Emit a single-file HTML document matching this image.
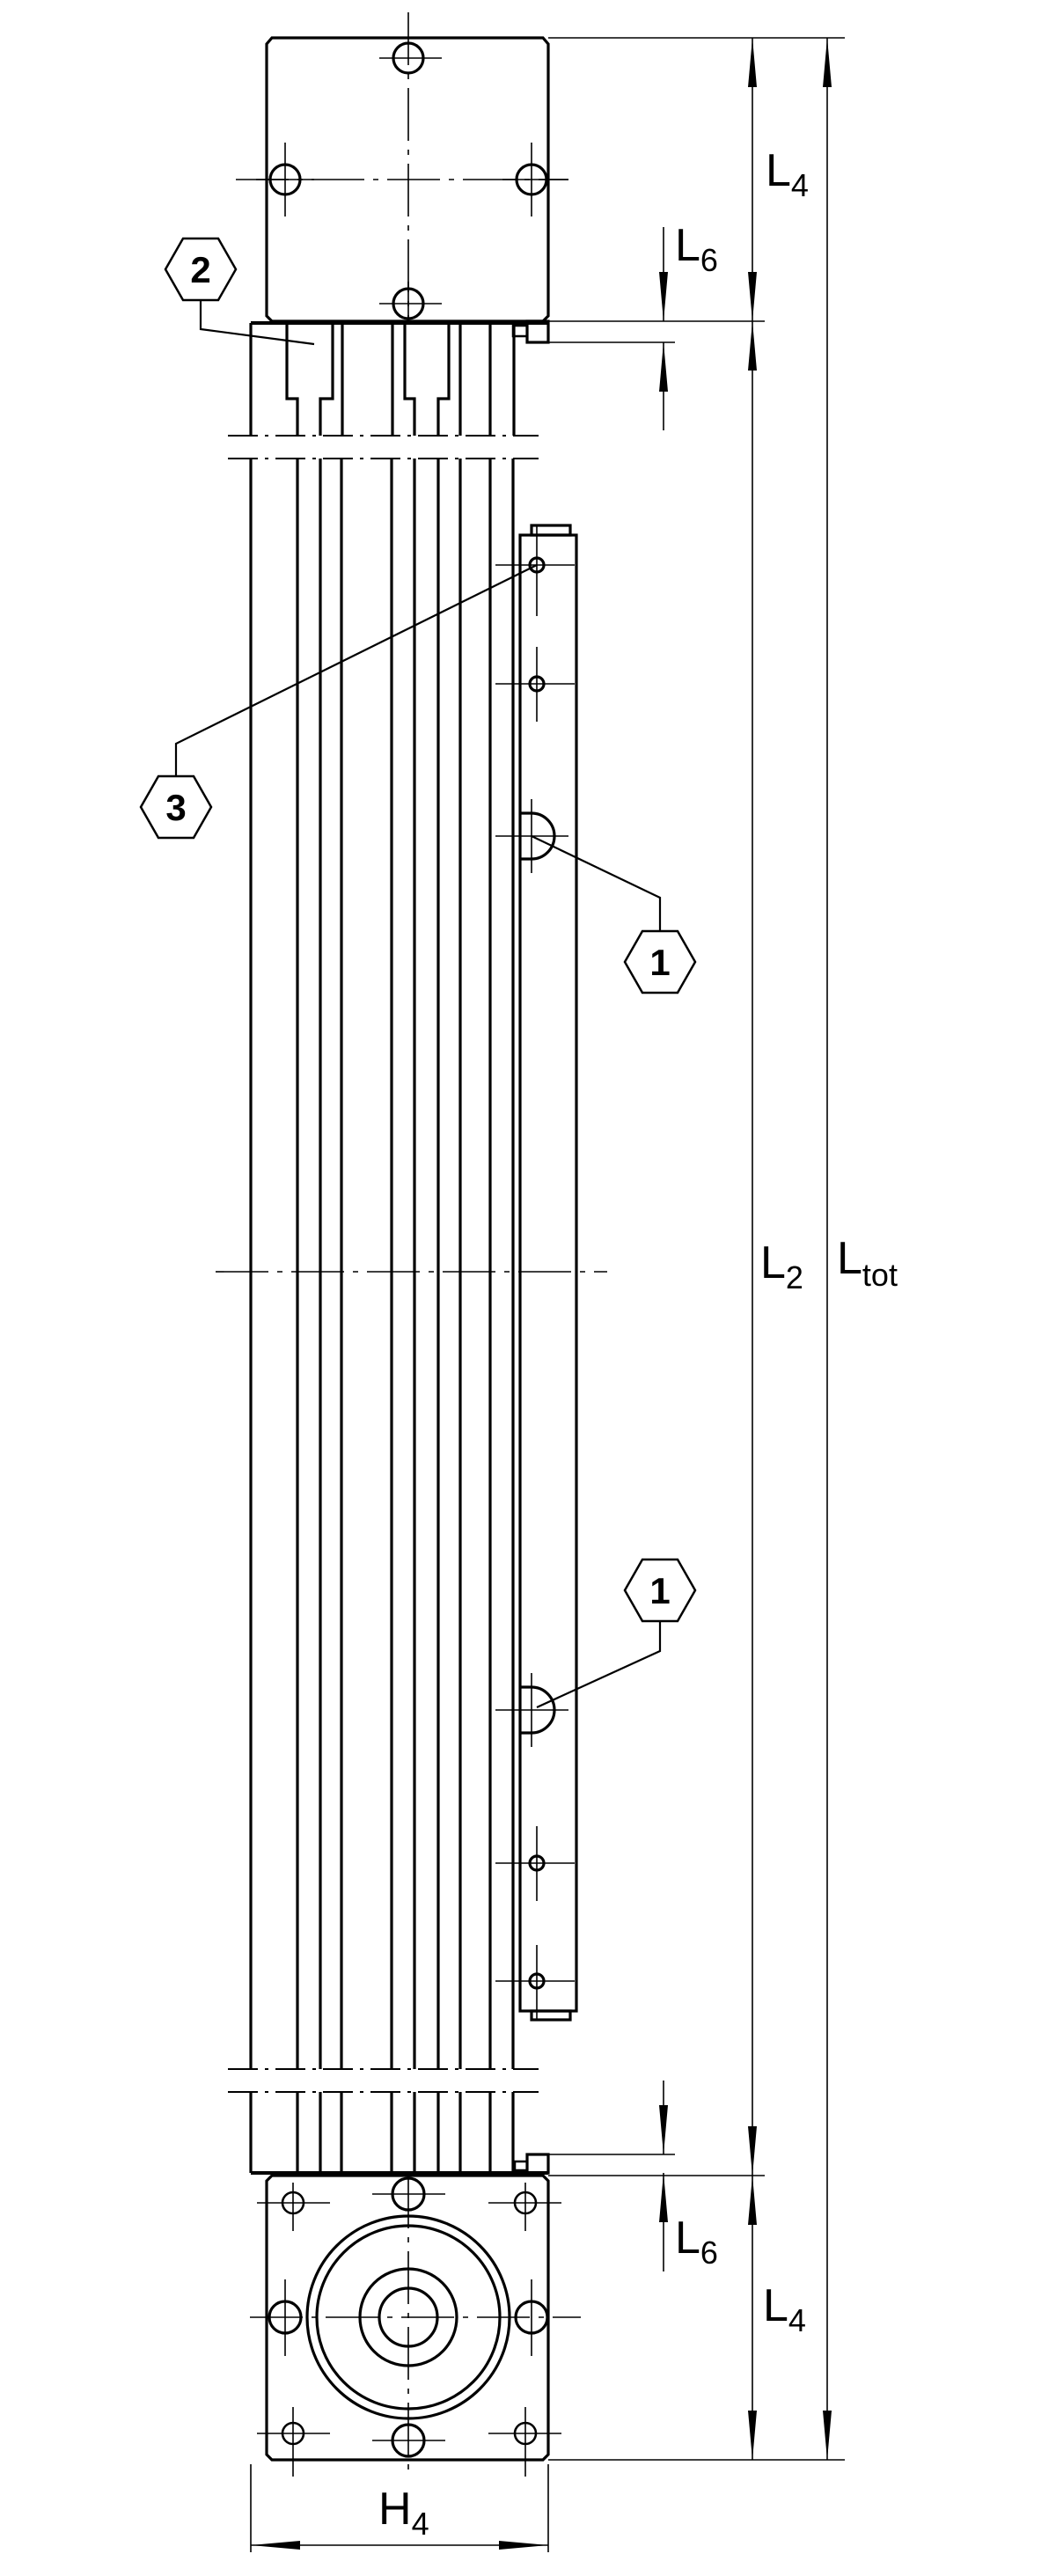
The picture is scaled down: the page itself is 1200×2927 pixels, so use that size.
<!DOCTYPE html>
<html><head><meta charset="utf-8"><style>
html,body{margin:0;padding:0;background:#fff}
svg{display:block}
text{font-family:"Liberation Sans",sans-serif;fill:#000}
</style></head><body>
<svg width="1200" height="2927" viewBox="0 0 1200 2927" xmlns="http://www.w3.org/2000/svg">
<defs>
<marker id="a" viewBox="0 0 56 12" refX="56" refY="6" markerWidth="56" markerHeight="12" markerUnits="userSpaceOnUse" orient="auto-start-reverse"><path d="M0,1 L56,6 L0,11 Z" fill="#000"/></marker>
</defs>
<g fill="none" stroke="#000" stroke-width="3.2">
<!-- top block -->
<path d="M309,43 H617 L623,50 V359 L617,365 H309 L303,359 V50 Z"/>
<circle cx="464" cy="66" r="17"/><circle cx="324" cy="204" r="17"/><circle cx="604" cy="204" r="17"/><circle cx="464" cy="345" r="17"/>
<!-- top connector blocks -->
<rect x="599" y="365" width="24" height="24"/><rect x="583" y="370" width="16" height="12" stroke-width="2.5"/>
<line x1="285" y1="367" x2="623" y2="367" stroke-width="4"/>
<!-- upper profile -->
<path d="M285,367 V495 M326,367 V453 H338 V495 M378,367 V453 H364 V495 M389,367 V495 M446,367 V495 M460,367 V453 H471 V495 M510,367 V453 H498 V495 M523,367 V495 M557,367 V495 M584,367 V495"/>
<!-- middle profile -->
<path d="M285,521 V2351 M338,521 V2351 M364,521 V2351 M388,521 V2351 M445,521 V2351 M471,521 V2351 M498,521 V2351 M523,521 V2351 M557,521 V2351 M583,521 V2351"/>
<!-- lower profile -->
<path d="M285,2377 V2469 M338,2377 V2469 M364,2377 V2469 M388,2377 V2469 M445,2377 V2469 M471,2377 V2469 M498,2377 V2469 M523,2377 V2469 M557,2377 V2469 M583,2377 V2469"/>
<line x1="285" y1="2469" x2="623" y2="2469" stroke-width="4"/>
<rect x="599" y="2448" width="24" height="21"/><rect x="585" y="2456" width="14" height="10" stroke-width="2.5"/>
<!-- rail -->
<rect x="591" y="608" width="64" height="1677"/>
<rect x="604" y="597" width="44" height="11"/>
<rect x="604" y="2285" width="44" height="10"/>
<circle cx="610" cy="642" r="8"/><circle cx="610" cy="777" r="8"/><circle cx="610" cy="2117" r="8"/><circle cx="610" cy="2251" r="8"/>
<path d="M591,924 H604 A26,26 0 0 1 604,976 H591"/>
<path d="M591,1917 H604 A26,26 0 0 1 604,1969 H591"/>
<!-- bottom block -->
<path d="M309,2472 H617 L623,2478 V2789 L617,2795 H309 L303,2789 V2478 Z"/>
<circle cx="464" cy="2493" r="18"/><circle cx="464" cy="2773" r="18"/><circle cx="324" cy="2633" r="18"/><circle cx="604" cy="2633" r="18"/>
<circle cx="333" cy="2503" r="12" stroke-width="2.6"/><circle cx="597" cy="2503" r="12" stroke-width="2.6"/><circle cx="333" cy="2765" r="12" stroke-width="2.6"/><circle cx="597" cy="2765" r="12" stroke-width="2.6"/>
<circle cx="464" cy="2633" r="115"/><circle cx="464" cy="2633" r="104"/><circle cx="464" cy="2633" r="55"/><circle cx="464" cy="2633" r="33"/>
<!-- hexagons -->
<path d="M188,306 L208,271 H248 L268,306 L248,341 H208 Z" stroke-width="2.5"/>
<path d="M160,917 L180,882 H220 L240,917 L220,952 H180 Z" stroke-width="2.5"/>
<path d="M710,1093 L730,1058 H770 L790,1093 L770,1128 H730 Z" stroke-width="2.5"/>
<path d="M710,1807 L730,1772 H770 L790,1807 L770,1842 H730 Z" stroke-width="2.5"/>
</g>
<g fill="none" stroke="#000" stroke-width="2.2">
<!-- leaders -->
<path d="M228,341 V374 L357,391"/>
<path d="M200,882 V845 L610,642"/>
<path d="M750,1058 V1020 L604,950"/>
<path d="M750,1842 V1876 L610,1940"/>
</g>
<g fill="none" stroke="#000" stroke-width="1.6">
<!-- break lines -->
<path d="M259,495 H612 M259,521 H612 M259,2351 H612 M259,2377 H612" stroke-dasharray="34 8 4 8" stroke-width="2"/>
<!-- center lines -->
<path d="M464,14 V365 M268,204 H646" stroke-dasharray="60 10 6 10"/>
<path d="M245,1445 H690" stroke-dasharray="60 10 6 10"/>
<path d="M464,2472 V2814 M284,2633 H660" stroke-dasharray="60 10 6 10"/>
<!-- crosshairs -->
<path d="M431,66 H502 M291,204 H357 M571,204 H646 M324,162 V246 M604,162 V246 M431,345 H502 M464,320 V365"/>
<path d="M563,642 H653 M610,597 V700 M563,777 H653 M610,735 V820 M563,2117 H653 M610,2075 V2160 M563,2251 H653 M610,2210 V2295"/>
<path d="M563,950 H646 M604,908 V992 M563,1943 H646 M604,1901 V1985"/>
<path d="M292,2503 H375 M555,2503 H638 M292,2765 H375 M555,2765 H638 M333,2480 V2535 M597,2480 V2535 M333,2735 V2814 M597,2735 V2814 M423,2493 H506 M423,2773 H506 M324,2590 V2677 M604,2590 V2677"/>
<!-- extension lines -->
<path d="M623,43 H960 M623,365 H869 M623,389 H767 M623,2448 H767 M623,2472 H869 M623,2795 H960 M285,2800 V2900 M623,2800 V2900"/>
<!-- dimension lines -->
<line x1="855" y1="43" x2="855" y2="365" marker-start="url(#a)" marker-end="url(#a)"/>
<line x1="855" y1="365" x2="855" y2="2472" marker-start="url(#a)" marker-end="url(#a)"/>
<line x1="855" y1="2472" x2="855" y2="2795" marker-start="url(#a)" marker-end="url(#a)"/>
<line x1="940" y1="43" x2="940" y2="2795" marker-start="url(#a)" marker-end="url(#a)"/>
<line x1="285" y1="2892" x2="623" y2="2892" marker-start="url(#a)" marker-end="url(#a)"/>
<line x1="754" y1="258" x2="754" y2="365" marker-end="url(#a)"/>
<line x1="754" y1="489" x2="754" y2="389" marker-end="url(#a)"/>
<line x1="754" y1="2364" x2="754" y2="2448" marker-end="url(#a)"/>
<line x1="754" y1="2581" x2="754" y2="2469" marker-end="url(#a)"/>
</g>
<!-- texts -->
<g font-size="52">
<text x="870" y="211">L<tspan font-size="36" dy="12">4</tspan></text>
<text x="767" y="296">L<tspan font-size="36" dy="12">6</tspan></text>
<text x="864" y="1452">L<tspan font-size="36" dy="12">2</tspan></text>
<text x="951" y="1447">L<tspan font-size="36" dy="14">tot</tspan></text>
<text x="767" y="2560">L<tspan font-size="36" dy="12">6</tspan></text>
<text x="867" y="2637">L<tspan font-size="36" dy="12">4</tspan></text>
<text x="430" y="2868">H<tspan font-size="36" dy="12">4</tspan></text>
</g>
<g font-size="42" font-weight="bold" text-anchor="middle">
<text x="228" y="321">2</text>
<text x="200" y="932">3</text>
<text x="750" y="1108">1</text>
<text x="750" y="1822">1</text>
</g>
</svg>
</body></html>
